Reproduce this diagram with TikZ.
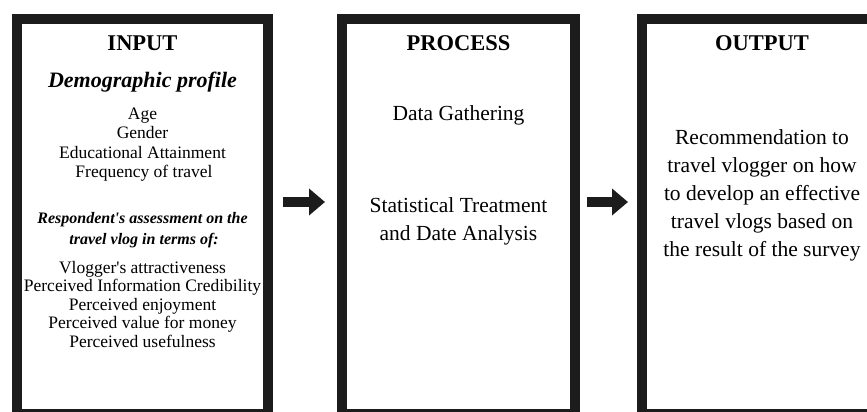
\documentclass[tikz,border=0pt]{standalone}
\usepackage{fontspec}
\setmainfont{Liberation Serif}
\usetikzlibrary{arrows.meta}
\definecolor{ink}{HTML}{1C1C1C}
\begin{document}
\begin{tikzpicture}[x=1pt,y=-1pt,
  frame/.style={draw=ink, line width=10pt, minimum height=395pt, inner sep=0pt},
  head/.style={font=\fontsize{22.5}{26}\selectfont\bfseries, anchor=base, inner sep=0pt},
  subhead/.style={font=\fontsize{22}{26}\selectfont\bfseries\itshape, anchor=base, inner sep=0pt},
  small/.style={font=\fontsize{17.5}{20}\selectfont, anchor=base, inner sep=0pt},
  smallbi/.style={font=\fontsize{16}{19}\selectfont\bfseries\itshape, anchor=base, inner sep=0pt},
  big/.style={font=\fontsize{21.5}{26}\selectfont, anchor=base, inner sep=0pt},
  blockarrow/.style={draw=ink, line width=10pt, -{Triangle[length=16pt,width=26pt]}}
]
\useasboundingbox (0,0) rectangle (867,412);
\clip (0,0) rectangle (867,412);

% frames
\node[frame, minimum width=251pt] (in) at (142.5,216.5) {};
\node[frame, minimum width=233pt] (proc) at (458.5,216.5) {};
\node[frame, minimum width=240pt] (out) at (762,216.5) {};

% arrows
\draw[blockarrow] ([xshift=10pt,yshift=14.5pt]in.east) -- ([xshift=-12pt,yshift=14.5pt]proc.west);
\draw[blockarrow] ([xshift=7pt,yshift=14.5pt]proc.east) -- ([xshift=-9pt,yshift=14.5pt]out.west);

% INPUT box text
\node[head] (inh) at (142.5,51) {INPUT};
\node[subhead] (demo) at (142.5,87) {Demographic profile};
\node[small] (age) at (142.5,119) {Age};
\node[small] (gender) at (142.5,138.5) {Gender};
\node[small] (edu) at (142.5,158) {Educational Attainment};
\node[small] (freq) at (144,177.5) {Frequency of travel};
\node[smallbi] (resp1) at (142.5,223) {Respondent\textquotesingle s assessment on the};
\node[smallbi] (resp2) at (144,244.5) {travel vlog in terms of:};
\node[small] (l1) at (142.5,273) {Vlogger\textquotesingle s attractiveness};
\node[small] (l2) at (142.5,291.5) {Perceived Information Credibility};
\node[small] (l3) at (142.5,310) {Perceived enjoyment};
\node[small] (l4) at (142.5,328.5) {Perceived value for money};
\node[small] (l5) at (142.5,347.5) {Perceived usefulness};

% PROCESS box text
\node[head] (proch) at (458.5,51) {PROCESS};
\node[big] (p1) at (458.5,120) {Data Gathering};
\node[big] (p2) at (458.5,212) {Statistical Treatment};
\node[big] (p3) at (458.5,240) {and Date Analysis};

% OUTPUT box text
\node[head] (outh) at (762,51) {OUTPUT};
\node[big] (o1) at (762,144) {Recommendation to};
\node[big] (o2) at (762,172) {travel vlogger on how};
\node[big] (o3) at (762,200) {to develop an effective};
\node[big] (o4) at (762,228) {travel vlogs based on};
\node[big] (o5) at (762,256) {the result of the survey};
\end{tikzpicture}
\end{document}
